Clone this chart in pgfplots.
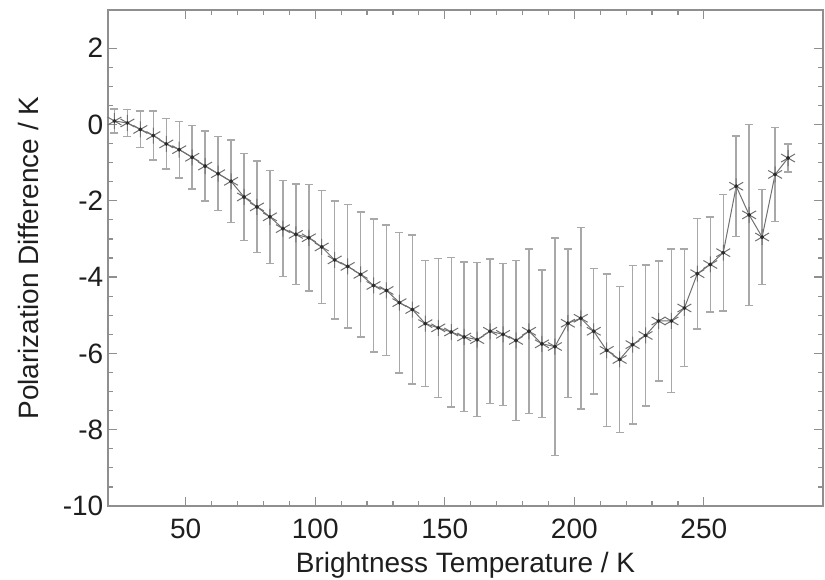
\documentclass[border=0pt]{standalone}
\usepackage{pgfplots}
\usepackage{pgfplotstable}
\pgfplotsset{compat=1.18}
\usepackage{fontspec}
\setmainfont{Liberation Sans}
\usetikzlibrary{calc}
\definecolor{cFrame}{HTML}{8F8F8F}
\definecolor{cBar}{HTML}{A8A8A8}
\definecolor{cPt}{HTML}{707070}
\definecolor{cDot}{HTML}{2A2A2A}
\definecolor{cTxt}{HTML}{1E1E1E}

% brightness temperature, polarization difference, 1-sigma spread
\pgfplotstableread{
x     y      e
22.5   0.09  0.31
27.5   0.04  0.35
32.5  -0.13  0.48
37.5  -0.29  0.64
42.5  -0.51  0.66
47.5  -0.66  0.74
52.5  -0.86  0.83
57.5  -1.09  0.92
62.5  -1.29  0.97
67.5  -1.49  1.08
72.5  -1.90  1.14
77.5  -2.16  1.20
82.5  -2.42  1.22
87.5  -2.73  1.26
92.5  -2.88  1.32
97.5  -2.97  1.40
102.5 -3.21  1.48
107.5 -3.55  1.55
112.5 -3.72  1.62
117.5 -3.93  1.64
122.5 -4.22  1.74
127.5 -4.35  1.71
132.5 -4.67  1.84
137.5 -4.85  1.95
142.5 -5.22  1.65
147.5 -5.33  1.82
152.5 -5.44  1.96
157.5 -5.57  1.96
162.5 -5.64  2.02
167.5 -5.42  1.89
172.5 -5.50  1.86
177.5 -5.66  2.10
182.5 -5.42  2.16
187.5 -5.75  1.93
192.5 -5.82  2.85
197.5 -5.21  1.94
202.5 -5.08  2.38
207.5 -5.42  1.64
212.5 -5.92  2.00
217.5 -6.16  1.92
222.5 -5.77  2.08
227.5 -5.53  1.85
232.5 -5.15  1.57
237.5 -5.15  1.88
242.5 -4.81  1.54
247.5 -3.91  1.45
252.5 -3.67  1.25
257.5 -3.36  1.53
262.5 -1.62  1.32
267.5 -2.37  2.37
272.5 -2.95  1.24
277.5 -1.31  1.23
282.5 -0.88  0.37
}\pdtable

\begin{document}
\begin{tikzpicture}
\begin{axis}[
  name=ax,
  scale only axis, width=536.25pt, height=372pt,
  xmin=20, xmax=296, ymin=-10, ymax=3,
  xtick={50,100,...,250}, ytick={-10,-8,...,2},
  minor x tick num=4, minor y tick num=3,
  tick align=inside, major tick length=7pt, minor tick length=3.5pt,
  axis line style={cFrame, line width=1.1pt},
  tick style={cFrame, line width=0.9pt},
  /pgf/number format/assume math mode=true,
  ticklabel style={font=\fontsize{21}{24}\selectfont, text=cTxt},
  xticklabel style={yshift=-6pt},
  label style={font=\fontsize{21}{24}\selectfont, text=cTxt},
  xlabel={Brightness Temperature / K},
  ylabel={Polarization Difference / K},
  xlabel style={at={(axis description cs:0.5,-0.119)}, anchor=center},
  ylabel style={at={(axis description cs:-0.1105,0.5)}, anchor=center},
]
\addplot[color=cPt, line width=0.75pt, mark=asterisk, mark size=6pt,
  mark options={line width=0.75pt},
  error bars/.cd, y dir=both, y explicit,
  error bar style={cBar, line width=1.1pt},
  error mark options={cBar, rotate=90, mark size=3pt, line width=1.1pt}]
  table[x=x, y=y, y error=e] {\pdtable};
\addplot[only marks, mark=*, mark size=1.3pt, color=cDot]
  table[x=x, y=y] {\pdtable};
\end{axis}
\pgfresetboundingbox
\path[use as bounding box] ($(ax.south west)+(-81pt,-54.75pt)$) rectangle ($(ax.north east)+(1.5pt,7.5pt)$);
\end{tikzpicture}
\end{document}
